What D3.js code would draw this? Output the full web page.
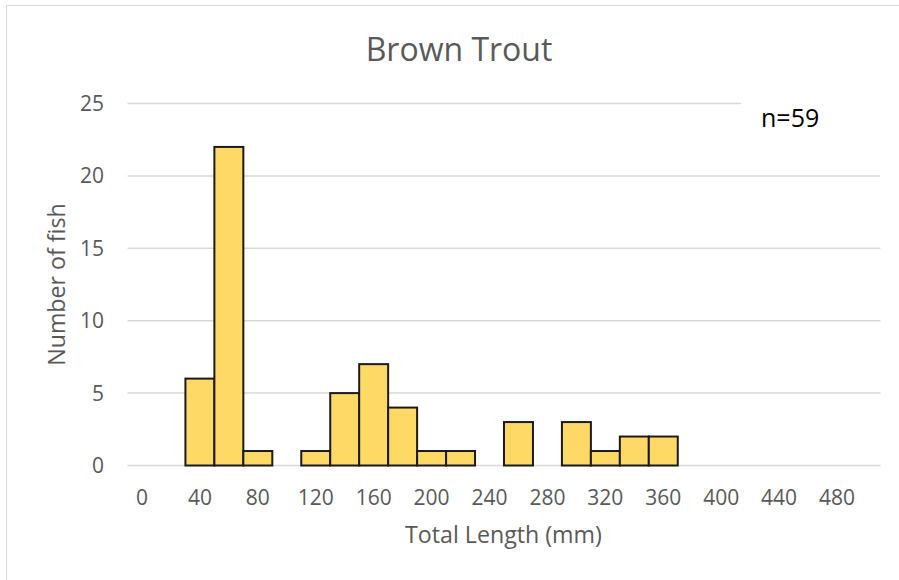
<!DOCTYPE html>
<html>
<head>
<meta charset="utf-8">
<script src="https://cdn.jsdelivr.net/npm/d3@7"></script>
<style>
    html, body { margin: 0; padding: 0; background: #fff; }
    svg { display: block; font-family: "Open Sans", sans-serif; }
</style>
</head>
<body>
<div id="chart"></div>
<script>
// histogram bins (lower edge of each 20 mm bin) and counts
const binStarts = [0, 20, 40, 60, 80, 100, 120, 140, 160, 180, 200, 220, 240,
    260, 280, 300, 320, 340, 360, 380, 400, 420, 440, 460, 480, 500];
const fishCounts = [0, 0, 6, 22, 1, 0, 1, 5, 7, 4, 1, 1, 0,
    3, 0, 3, 1, 2, 2, 0, 0, 0, 0, 0, 0, 0];
const yTicks = [0, 5, 10, 15, 20, 25];
const xLabels = ["0", "40", "80", "120", "160", "200", "240", "280", "320", "360", "400", "440", "480"];

const chartTitle = "Brown Trout";
const xTitle = "Total Length (mm)";
const yTitle = "Number of fish";
const sampleNote = "n=59";

const width = 899;
const height = 580;
const margin = { top: 103.5, right: 18.5, bottom: 114.5, left: 127.5 };

const svg = d3.select("#chart")
    .append("svg")
    .attr("width", width)
    .attr("height", height);

// chart frame (only left and top edge are inside the picture)
svg.append("rect")
    .attr("x", 6.5)
    .attr("y", 5.5)
    .attr("width", 920)
    .attr("height", 600)
    .attr("fill", "none")
    .attr("stroke", "#d9d9d9")
    .attr("stroke-width", 1);

const x = d3.scaleBand()
    .domain(binStarts)
    .range([margin.left, width - margin.right])
    .padding(0);

const y = d3.scaleLinear()
    .domain([0, 25])
    .range([height - margin.bottom, margin.top]);

// gridlines
svg.append("g")
    .selectAll("line")
    .data(yTicks)
    .join("line")
    .attr("x1", margin.left)
    .attr("x2", width - margin.right)
    .attr("y1", d => y(d))
    .attr("y2", d => y(d))
    .attr("stroke", "#d9d9d9")
    .attr("stroke-width", 1.5);

// y tick labels
svg.append("g")
    .selectAll("text")
    .data(yTicks)
    .join("text")
    .attr("x", 104)
    .attr("y", d => y(d))
    .attr("dy", "0.36em")
    .attr("text-anchor", "end")
    .attr("font-size", 21)
    .attr("fill", "#595959")
    .text(d => d);

// x tick labels every other bin
svg.append("g")
    .selectAll("text")
    .data(xLabels)
    .join("text")
    .attr("x", d => x(+d) + x.bandwidth() / 2)
    .attr("y", 505)
    .attr("text-anchor", "middle")
    .attr("font-size", 21)
    .attr("fill", "#595959")
    .text(d => d);

// bars
svg.append("g")
    .selectAll("rect")
    .data(binStarts.map((b, i) => ({ bin: b, count: fishCounts[i] })).filter(d => d.count > 0))
    .join("rect")
    .attr("x", d => x(d.bin))
    .attr("y", d => y(d.count))
    .attr("width", x.bandwidth())
    .attr("height", d => y(0) - y(d.count))
    .attr("fill", "#FFD966")
    .attr("stroke", "#1a1a1a")
    .attr("stroke-width", 2);

// title
svg.append("text")
    .attr("x", 459)
    .attr("y", 61)
    .attr("text-anchor", "middle")
    .attr("font-size", 32)
    .attr("fill", "#595959")
    .text(chartTitle);

// axis titles
svg.append("text")
    .attr("x", 503.5)
    .attr("y", 543)
    .attr("text-anchor", "middle")
    .attr("font-size", 23.2)
    .attr("fill", "#595959")
    .text(xTitle);

svg.append("text")
    .attr("transform", "translate(65, 284.5) rotate(-90)")
    .attr("text-anchor", "middle")
    .attr("font-size", 23.2)
    .attr("fill", "#595959")
    .text(yTitle);

// text box for sample size, covering the top gridline
svg.append("rect")
    .attr("x", 741)
    .attr("y", 96)
    .attr("width", 150)
    .attr("height", 44)
    .attr("fill", "#fff");

svg.append("text")
    .attr("x", 761)
    .attr("y", 127)
    .attr("font-size", 25)
    .attr("fill", "#000")
    .text(sampleNote);
</script>
</body>
</html>
